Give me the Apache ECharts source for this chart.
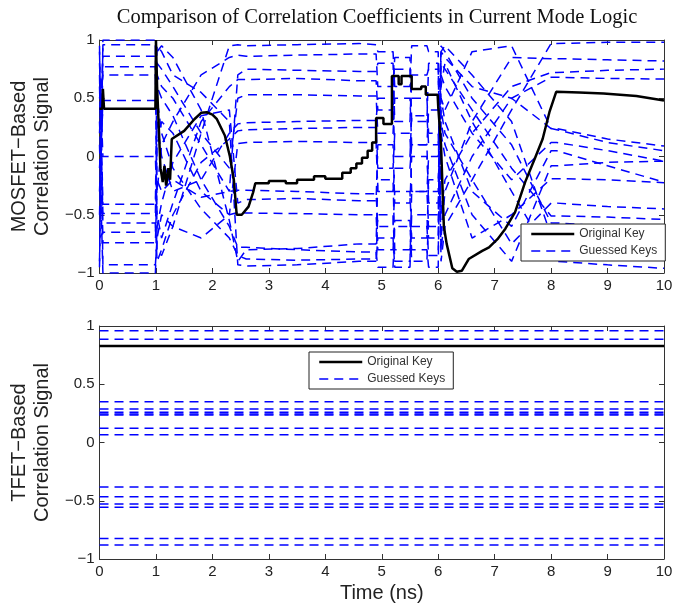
<!DOCTYPE html>
<html>
<head>
<meta charset="utf-8">
<script src="https://cdn.jsdelivr.net/npm/echarts@6/dist/echarts.min.js"></script>
<style>
html, body { margin: 0; padding: 0; background: #fff; }
#chart { width: 676px; height: 605px; }
</style>
</head>
<body>
<div id="chart"></div>
<script>
// ---- data ----
// MOSFET: time points shared by the guessed-key traces (ns)
var mosTimes = [0, 0.06, 0.99, 1.02, 1.1, 1.3, 1.8, 2.3, 2.45, 2.6, 3.5, 4.6, 4.9, 4.93, 5.2, 5.23, 5.5, 5.53, 5.8, 5.83, 6.0, 6.05, 6.12, 6.6, 7.3, 8.0, 8.1, 9.0, 10];
var mosGuessed = [
    [-0.9, 0.96, 0.96, -0.8, -0.85, -0.6, 0.2, 0.95, 0.96, 0.95, 0.96, 0.97, 0.96, 0.9, 0.9, 0.6, 0.6, 0.95, 0.95, 0.9, 0.9, -0.9, -0.6, -0.2, 0.4, 0.97, 0.97, 0.98, 0.98],
    [0.2, 0.86, 0.86, 0.9, 0.95, 0.85, 0.4, -0.55, -0.9, -0.8, -0.79, -0.75, -0.75, -0.2, -0.2, -0.8, -0.8, -0.6, -0.6, -0.85, -0.85, 0.9, 0.95, 0.7, 0.3, -0.68, -0.7, -0.75, -0.79],
    [-0.5, 0.77, 0.77, -0.3, 0.1, 0.3, 0.7, 0.85, 0.87, 0.86, 0.87, 0.88, 0.88, 0.6, 0.6, 0.85, 0.85, 0.3, 0.3, 0.8, 0.8, -0.7, -0.3, 0.3, 0.85, 0.84, 0.84, 0.83, 0.82],
    [0.5, 0.70, 0.70, 0.5, 0.2, -0.1, -0.45, -0.7, -0.85, -0.88, -0.89, -0.88, -0.88, -0.5, -0.5, -0.9, -0.9, -0.3, -0.3, -0.6, -0.6, 0.6, 0.8, 0.3, -0.3, -0.88, -0.9, -0.93, -0.96],
    [-0.3, 0.48, 0.48, 0.7, 0.6, 0.5, 0.1, -0.3, 0.7, 0.75, 0.74, 0.73, 0.73, 0.8, 0.8, 0.3, 0.3, 0.7, 0.7, 0.75, 0.75, -0.5, -0.2, 0.2, 0.6, 0.72, 0.72, 0.74, 0.75],
    [0.8, 0.0, 0.0, -0.5, -0.7, -0.4, 0.3, 0.6, 0.66, 0.66, 0.67, 0.65, 0.65, 0.4, 0.4, 0.75, 0.75, 0.5, 0.5, 0.2, 0.2, -0.8, -0.5, 0.0, 0.5, 0.68, 0.68, 0.67, 0.665],
    [0.9, -0.41, -0.41, 0.8, 0.75, 0.6, 0.2, -0.1, 0.5, 0.53, 0.53, 0.52, 0.52, 0.2, 0.2, 0.5, 0.5, 0.1, 0.1, 0.4, 0.4, 0.9, 0.85, 0.6, 0.5, 0.24, 0.24, 0.15, 0.09],
    [0.6, -0.49, -0.49, 0.3, 0.0, -0.3, -0.2, 0.2, 0.28, 0.29, 0.3, 0.31, 0.31, 0.5, 0.5, 0.0, 0.0, 0.35, 0.35, 0.1, 0.1, 0.7, 0.6, 0.2, -0.2, 0.12, 0.12, 0.05, -0.04],
    [0.3, -0.57, -0.57, -0.9, -0.8, -0.5, -0.05, 0.15, 0.22, 0.23, 0.24, 0.25, 0.25, -0.1, -0.1, 0.2, 0.2, -0.3, -0.3, 0.0, 0.0, 0.5, 0.3, -0.3, -0.6, 0.05, 0.05, -0.08, -0.22],
    [-0.7, -0.65, -0.65, 0.1, 0.3, 0.2, -0.3, -0.5, 0.11, 0.12, 0.13, 0.12, 0.12, -0.3, -0.3, -0.1, -0.1, 0.1, 0.1, -0.4, -0.4, 0.3, 0.1, -0.5, -0.9, -0.08, -0.08, -0.05, -0.04],
    [0.7, -0.74, -0.74, -0.2, -0.3, -0.2, -0.35, -0.3, -0.29, -0.29, -0.3, -0.32, -0.32, -0.6, -0.6, -0.3, -0.3, -0.7, -0.7, -0.2, -0.2, 0.2, 0.0, -0.7, -0.5, -0.19, -0.19, -0.2, -0.225],
    [0.95, -0.93, -0.93, -0.7, -0.5, -0.6, -0.7, -0.5, -0.48, -0.485, -0.49, -0.5, -0.5, -0.8, -0.8, -0.55, -0.55, -0.9, -0.9, -0.5, -0.5, 0.4, 0.2, -0.2, -0.75, -0.40, -0.40, -0.43, -0.45],
    [-0.95, 1.0, 1.0, 0.6, 0.5, 0.35, -0.2, -0.6, -0.78, -0.78, -0.8, -0.82, -0.82, -0.95, -0.95, -0.6, -0.6, -0.8, -0.8, -0.95, -0.95, 0.8, 0.75, 0.4, -0.1, -0.51, -0.51, -0.52, -0.54],
    [0.1, -1.0, -1.0, -0.6, -0.4, -0.05, 0.35, 0.4, -0.4, -0.37, -0.36, -0.38, -0.38, 0.1, 0.1, -0.4, -0.4, 0.0, 0.0, -0.3, -0.3, 0.95, 0.9, 0.5, 0.1, -0.57, -0.57, -0.6, -0.62],
    [-0.1, 0.41, 0.41, 0.95, 0.9, 0.7, 0.55, 0.3, -0.93, -0.94, -0.93, -0.9, -0.9, -0.7, -0.7, -0.95, -0.95, -0.5, -0.5, -0.7, -0.7, 0.5, 0.4, 0.9, 0.95, 0.24, 0.23, 0.12, 0.05]
];
// MOSFET: original key trace
var origTimes = [0, 0.05, 0.06, 0.08, 0.99, 1.0, 1.02, 1.08, 1.12, 1.15, 1.18, 1.22, 1.25, 1.28, 1.5, 1.68, 1.8, 1.9, 2.0, 2.08, 2.22, 2.31, 2.38, 2.43, 2.52, 2.64, 2.72, 2.76,
    3.0, 3.0, 3.3, 3.3, 3.5, 3.5, 3.8, 3.8, 4.0, 4.0, 4.3, 4.3, 4.45, 4.45, 4.55, 4.55, 4.65, 4.65, 4.75, 4.75, 4.83, 4.83, 4.9, 4.9, 5.03, 5.03, 5.18, 5.18,
    5.3, 5.3, 5.35, 5.35, 5.53, 5.53, 5.7, 5.7, 5.78, 5.78, 5.99, 6.0, 6.05, 6.1, 6.15, 6.25, 6.33, 6.42, 6.54, 6.78, 6.9, 7.05, 7.19, 7.36, 7.45, 7.54, 7.71, 7.85, 7.97, 8.09, 8.5, 8.93, 9.51, 10];
var origValues = [0.41, 0.41, 0.58, 0.41, 0.41, 1.0, 0.6, -0.1, -0.22, -0.08, -0.25, -0.1, -0.2, 0.15, 0.22, 0.32, 0.375, 0.38, 0.36, 0.32, 0.18, 0.0, -0.2, -0.5, -0.5, -0.43, -0.31, -0.23,
    -0.23, -0.21, -0.21, -0.23, -0.23, -0.2, -0.2, -0.17, -0.17, -0.19, -0.19, -0.14, -0.14, -0.1, -0.1, -0.06, -0.06, -0.01, -0.01, 0.05, 0.05, 0.12, 0.12, 0.33, 0.33, 0.28, 0.28, 0.69,
    0.69, 0.62, 0.62, 0.69, 0.69, 0.58, 0.58, 0.6, 0.6, 0.53, 0.53, 0.43, 0.1, -0.6, -0.75, -0.96, -0.99, -0.98, -0.88, -0.81, -0.78, -0.71, -0.62, -0.48, -0.35, -0.22, -0.02, 0.15, 0.38, 0.555, 0.55, 0.54, 0.52, 0.48];
// TFET: constant correlation levels over the whole window
var tfetTimes = [0, 10];
var tfetOriginal = 0.828;
var tfetGuessed = [0.96, 0.886, 0.35, 0.288, 0.259, 0.245, 0.236, 0.122, 0.067, -0.382, -0.465, -0.528, -0.556, -0.823, -0.88];
var yTicks = [-1, -0.5, 0, 0.5, 1];

var chart = echarts.init(document.getElementById('chart'));
var AXIS_COLOR = '#333';
var FONT = 'Liberation Sans, Arial, sans-serif';
var BLUE = '#0000ff';

function pairs(ts, vs) {
    var out = [];
    for (var i = 0; i < ts.length; i++) out.push([ts[i], vs[i]]);
    return out;
}

function xAxis(grid, pos, labels, name) {
    return {
        type: 'value', gridIndex: grid, position: pos, min: 0, max: 10, interval: 1,
        name: name || '', nameLocation: 'middle', nameGap: 24,
        nameTextStyle: { fontSize: 20, color: '#222', fontFamily: FONT },
        axisLine: { show: true, onZero: false, lineStyle: { color: AXIS_COLOR, width: 1 } },
        axisTick: { show: true, inside: true, length: 5, lineStyle: { color: AXIS_COLOR } },
        axisLabel: { show: labels, fontSize: 15, color: '#222', margin: 5, fontFamily: FONT },
        splitLine: { show: false }
    };
}

function yAxis(grid, pos, labels, name) {
    return {
        type: 'value', gridIndex: grid, position: pos,
        min: yTicks[0], max: yTicks[yTicks.length - 1], interval: 0.5,
        name: name || '', nameLocation: 'middle', nameGap: 40,
        nameTextStyle: { fontSize: 20, lineHeight: 23, color: '#222', fontFamily: FONT },
        axisLine: { show: true, onZero: false, lineStyle: { color: AXIS_COLOR, width: 1 } },
        axisTick: { show: true, inside: true, length: 5, lineStyle: { color: AXIS_COLOR } },
        axisLabel: {
            show: labels, fontSize: 15, color: '#222', margin: 5, fontFamily: FONT,
            formatter: function (v) { return String(v).replace('-', '\u2212'); }
        },
        splitLine: { show: false }
    };
}

function legend(left, top) {
    return {
        orient: 'vertical', left: left, top: top,
        data: ['Original Key', 'Guessed Keys'],
        itemWidth: 43, itemHeight: 14, itemGap: 5,
        padding: [4, 8, 4, 9],
        borderColor: '#222', borderWidth: 1, borderRadius: 0, backgroundColor: '#fff',
        selectedMode: false,
        itemStyle: { opacity: 0 },
        lineStyle: { width: 'inherit', type: 'inherit' },
        textStyle: { fontSize: 12, color: '#333', fontFamily: FONT }
    };
}

var series = [];
// top plot: guessed keys then the original key on top
for (var g = 0; g < mosGuessed.length; g++) {
    series.push({
        name: 'Guessed Keys', type: 'line', xAxisIndex: 0, yAxisIndex: 0,
        data: pairs(mosTimes, mosGuessed[g]), symbol: 'none', color: BLUE,
        lineStyle: { color: BLUE, width: 1.5, type: [9, 6] }, z: 2
    });
}
series.push({
    name: 'Original Key', type: 'line', xAxisIndex: 0, yAxisIndex: 0,
    data: pairs(origTimes, origValues), symbol: 'none', color: '#000',
    lineStyle: { color: '#000', width: 2.5 }, z: 3
});
// bottom plot
for (var k = 0; k < tfetGuessed.length; k++) {
    series.push({
        name: 'Guessed Keys', type: 'line', xAxisIndex: 2, yAxisIndex: 2,
        data: pairs(tfetTimes, [tfetGuessed[k], tfetGuessed[k]]), symbol: 'none', color: BLUE,
        lineStyle: { color: BLUE, width: 1.5, type: [9, 6] }, z: 2
    });
}
series.push({
    name: 'Original Key', type: 'line', xAxisIndex: 2, yAxisIndex: 2,
    data: pairs(tfetTimes, [tfetOriginal, tfetOriginal]), symbol: 'none', color: '#000',
    lineStyle: { color: '#000', width: 2.5 }, z: 3
});

chart.setOption({
    animation: false,
    backgroundColor: '#fff',
    title: {
        text: 'Comparison of Correlation Coefficients in Current Mode Logic',
        left: 372, top: 2, textAlign: 'center',
        textStyle: { fontFamily: 'Liberation Serif, Times New Roman, serif', fontWeight: 'normal', fontSize: 20.5, color: '#111' }
    },
    legend: [legend(521, 224), legend(309, 352)],
    grid: [
        { left: 92, right: 12, top: 40, height: 233 },
        { left: 92, right: 12, top: 326, height: 233 }
    ],
    xAxis: [
        xAxis(0, 'bottom', true), xAxis(0, 'top', false),
        xAxis(1, 'bottom', true, 'Time (ns)'), xAxis(1, 'top', false)
    ],
    yAxis: [
        yAxis(0, 'left', true, 'MOSFET\u2212Based\nCorrelation Signal'), yAxis(0, 'right', false),
        yAxis(1, 'left', true, 'TFET\u2212Based\nCorrelation Signal'), yAxis(1, 'right', false)
    ],
    series: series
});
</script>
</body>
</html>
